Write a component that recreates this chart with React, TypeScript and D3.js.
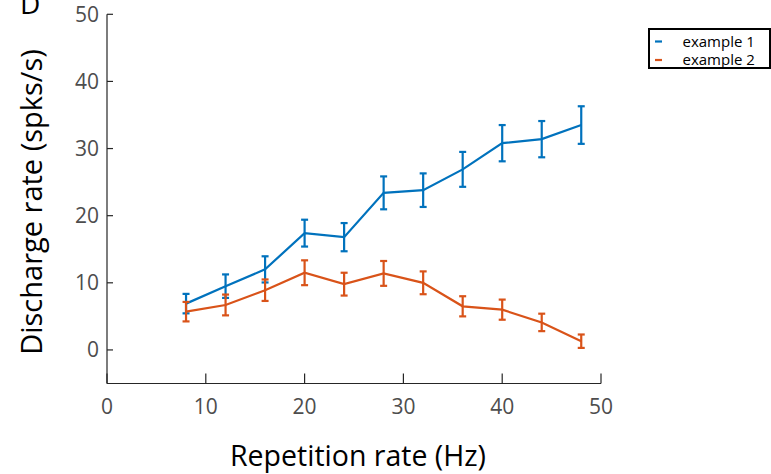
import React from "react";
import * as d3 from "d3";

const rates = [8, 12, 16, 20, 24, 28, 32, 36, 40, 44, 48];
const ex1Mean = [6.9, 9.5, 12.0, 17.4, 16.8, 23.4, 23.8, 26.9, 30.8, 31.4, 33.5];
const ex1Err = [1.45, 1.75, 1.95, 2.0, 2.1, 2.45, 2.5, 2.6, 2.7, 2.7, 2.8];
const ex2Mean = [5.7, 6.7, 8.9, 11.5, 9.8, 11.4, 10.0, 6.5, 6.0, 4.1, 1.3];
const ex2Err = [1.45, 1.55, 1.6, 1.85, 1.7, 1.85, 1.7, 1.5, 1.5, 1.3, 1.0];
const xTicks = [0, 10, 20, 30, 40, 50];
const yTicks = [0, 10, 20, 30, 40, 50];
const seriesNames = ["example 1", "example 2"];
const colors = ["#0072BD", "#D95319"];

const W = 771;
const H = 474;
const FONT = "'Open Sans', 'Noto Sans', sans-serif";

export default function App() {
  const x = d3.scaleLinear().domain([0, 50]).range([107, 601]);
  const y = d3.scaleLinear().domain([-5, 50]).range([383.5, 14.3]);
  const line = d3
    .line<number>()
    .x((_, i) => x(rates[i]))
    .y((d) => y(d));

  const series = [
    { mean: ex1Mean, err: ex1Err, color: colors[0] },
    { mean: ex2Mean, err: ex2Err, color: colors[1] },
  ];
  const axisColor = "#262626";
  const tickColor = "#4d4d4d";
  const cap = 3.5;

  return (
    <svg
      width={W}
      height={H}
      style={{ position: "absolute", left: 0, top: 0, background: "#fff" }}
      fontFamily={FONT}
    >
      <rect x={0} y={0} width={W} height={H} fill="#fff" />
      {/* panel letter */}
      <text x={20} y={14} fontSize={28} fill="#000">D</text>

      {/* axes */}
      <line x1={x(0)} x2={x(0)} y1={y(50)} y2={y(-5)} stroke={axisColor} strokeWidth={1.2} />
      <line x1={x(0)} x2={x(50)} y1={y(-5)} y2={y(-5)} stroke={axisColor} strokeWidth={1.2} />
      {yTicks.map((t) => (
        <g key={"y" + t}>
          <line x1={x(0)} x2={x(0) + 6} y1={y(t)} y2={y(t)} stroke={axisColor} strokeWidth={1.2} />
          <text
            x={x(0) - 8}
            y={y(t)}
            dy="0.36em"
            textAnchor="end"
            fontSize={21}
            fill={tickColor}
          >
            {t}
          </text>
        </g>
      ))}
      {xTicks.map((t) => (
        <g key={"x" + t}>
          <line x1={x(t)} x2={x(t)} y1={y(-5)} y2={y(-5) - 10} stroke={axisColor} strokeWidth={1.2} />
          <text
            x={x(t)}
            y={y(-5) + 23}
            dy="0.36em"
            textAnchor="middle"
            fontSize={21}
            fill={tickColor}
          >
            {t}
          </text>
        </g>
      ))}
      <text x={358} y={466} textAnchor="middle" fontSize={28.5} fill="#000">
        Repetition rate (Hz)
      </text>
      <text
        transform={`translate(${42},${202}) rotate(-90)`}
        textAnchor="middle"
        fontSize={29}
        fill="#000"
      >
        Discharge rate (spks/s)
      </text>

      {/* series */}
      {series.map((s, si) => (
        <g key={"s" + si}>
          <path d={line(s.mean) || ""} fill="none" stroke={s.color} strokeWidth={2.2} />
          {s.mean.map((m, i) => {
            const cx = x(rates[i]);
            const y0 = y(m - s.err[i]);
            const y1 = y(m + s.err[i]);
            return (
              <g key={i} stroke={s.color} strokeWidth={2.2}>
                <line x1={cx} x2={cx} y1={y0} y2={y1} />
                <line x1={cx - cap} x2={cx + cap} y1={y0} y2={y0} />
                <line x1={cx - cap} x2={cx + cap} y1={y1} y2={y1} />
              </g>
            );
          })}
        </g>
      ))}

      {/* legend */}
      <rect x={649} y={29} width={121} height={39} fill="#fff" stroke="#000" strokeWidth={2} />
      {seriesNames.map((n, i) => (
        <g key={n}>
          <line
            x1={655}
            x2={662}
            y1={41.5 + i * 18.5}
            y2={41.5 + i * 18.5}
            stroke={colors[i]}
            strokeWidth={2.2}
          />
          <text x={682.5} y={41.5 + i * 18.5} dy="0.36em" fontSize={15} fill="#000">
            {n}
          </text>
        </g>
      ))}
    </svg>
  );
}
